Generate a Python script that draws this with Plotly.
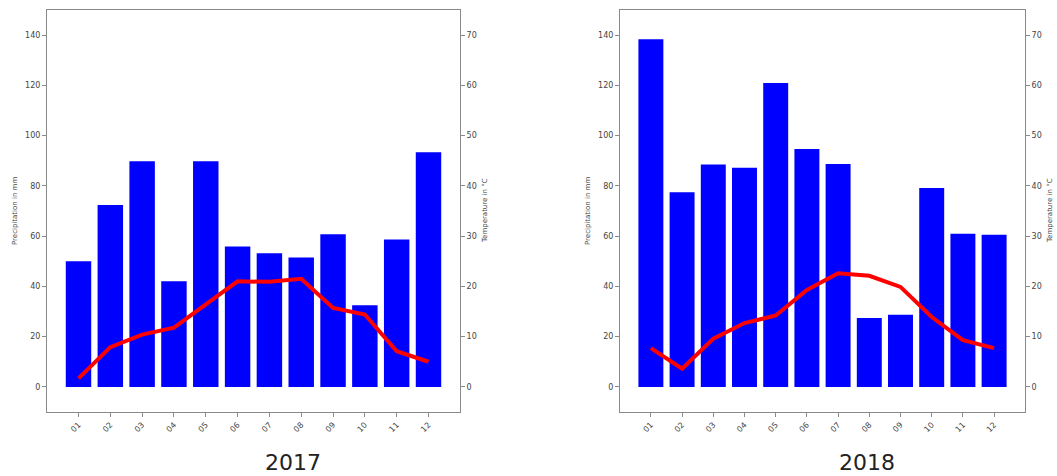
import plotly.graph_objects as go

# Monthly climate data
months = ["01", "02", "03", "04", "05", "06", "07", "08", "09", "10", "11", "12"]

precip_2017 = [50.0, 72.4, 89.8, 42.0, 89.8, 55.9, 53.2, 51.5, 60.7, 32.5, 58.7, 93.4]
temp_2017 = [1.7, 7.9, 10.4, 11.8, 16.4, 21.0, 20.9, 21.5, 15.7, 14.4, 7.1, 5.0]

precip_2018 = [138.4, 77.5, 88.5, 87.2, 120.9, 94.7, 88.7, 27.4, 28.7, 79.2, 60.9, 60.5]
temp_2018 = [7.7, 3.6, 9.6, 12.7, 14.2, 19.3, 22.6, 22.1, 19.9, 13.9, 9.3, 7.7]

years = ["2017", "2018"]

W, H = 1057, 476
BAR_COLOR = "#0000ff"
LINE_COLOR = "#ff0000"
SPINE = "#8a8a8a"
TICKFONT = dict(family="DejaVu Sans", size=8, color="#444444")
LABELFONT = dict(family="DejaVu Sans", size=7, color="#444444")

fig = go.Figure()

panels = [
    (precip_2017, temp_2017, "x", "y", "y2"),
    (precip_2018, temp_2018, "x2", "y3", "y4"),
]
for precip, temp, xa, ya_left, ya_right in panels:
    fig.add_trace(go.Bar(x=months, y=precip, marker=dict(color=BAR_COLOR, line=dict(width=0)),
                         width=0.8, xaxis=xa, yaxis=ya_left, showlegend=False))
    fig.add_trace(go.Scatter(x=months, y=temp, mode="lines",
                             line=dict(color=LINE_COLOR, width=4),
                             xaxis=xa, yaxis=ya_right, showlegend=False))

# panel geometry in pixels
left_px = [(47, 460), (620, 1025)]
top_px, bottom_px = 10, 412
ydom = [1 - bottom_px / H, 1 - top_px / H]

common_x = dict(type="category", range=[-0.99, 11.99], tickangle=-45, ticks="outside",
                ticklen=4, tickcolor=SPINE, tickfont=TICKFONT, showgrid=False,
                showline=True, linecolor=SPINE, linewidth=1, mirror=True, zeroline=False)
common_y = dict(ticks="outside", ticklen=4, tickcolor=SPINE, tickfont=TICKFONT,
                showgrid=False, showline=True, linecolor=SPINE, linewidth=1,
                zeroline=False, domain=ydom)

layout = dict(
    width=W, height=H, margin=dict(l=0, r=0, t=0, b=0),
    paper_bgcolor="white", plot_bgcolor="white", bargap=0.2,
    xaxis=dict(common_x, domain=[left_px[0][0] / W, left_px[0][1] / W], anchor="y"),
    xaxis2=dict(common_x, domain=[left_px[1][0] / W, left_px[1][1] / W], anchor="y3"),
    yaxis=dict(common_y, range=[-10, 150], tickvals=list(range(0, 141, 20)), anchor="x", side="left"),
    yaxis2=dict(common_y, range=[-5, 75], tickvals=list(range(0, 71, 10)), anchor="x",
                overlaying="y", side="right"),
    yaxis3=dict(common_y, range=[-10, 150], tickvals=list(range(0, 141, 20)), anchor="x2", side="left"),
    yaxis4=dict(common_y, range=[-5, 75], tickvals=list(range(0, 71, 10)), anchor="x2",
                overlaying="y3", side="right"),
)
fig.update_layout(**layout)

annotations = []
ymid = (ydom[0] + ydom[1]) / 2
for (x0, x1), year, title_x in zip(left_px, years, [292.5, 866.5]):
    annotations.append(dict(text="Precipitation in mm", xref="paper", yref="paper",
                            x=(x0 - 32) / W, y=ymid, textangle=-90, showarrow=False,
                            font=LABELFONT, xanchor="center", yanchor="middle"))
    annotations.append(dict(text="Temperature in °C", xref="paper", yref="paper",
                            x=(x1 + 25) / W, y=ymid, textangle=-90, showarrow=False,
                            font=LABELFONT, xanchor="center", yanchor="middle"))
    annotations.append(dict(text=year, xref="paper", yref="paper",
                            x=title_x / W, y=0, showarrow=False, borderpad=0,
                            font=dict(family="DejaVu Sans", size=22, color="#222222"),
                            xanchor="center", yanchor="bottom"))
fig.update_layout(annotations=annotations)

fig.write_html("out.html")
